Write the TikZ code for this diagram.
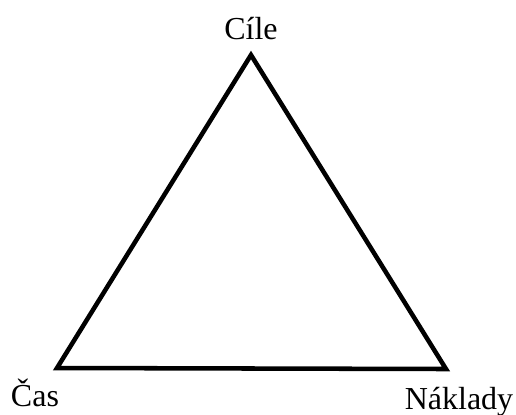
\documentclass[tikz,border=0pt]{standalone}
\usepackage{fontspec}
\setmainfont{Liberation Serif}
\usetikzlibrary{positioning}
\tikzset{
  side/.style={draw=black,line width=3.4pt,line join=miter},
  corner/.style={font=\fontsize{24}{28}\selectfont,inner sep=0pt,anchor=base},
}
\begin{document}
\begin{tikzpicture}[x=0.75pt,y=-0.75pt]
  \useasboundingbox (0,0) rectangle (516,414);
  % vertices of the triangle
  \coordinate (goal) at (251,55);
  \coordinate (time) at (57,368);
  \coordinate (cost) at (446,369);
  \draw[side] (goal) -- (cost) -- (time) -- cycle;
  % labels
  \node[corner] (goallabel) at (251,39) {Cíle};
  \node[corner] (timelabel) at (35,406) {Čas};
  \node[corner] (costlabel) at (459,409) {Náklady};
\end{tikzpicture}
\end{document}
